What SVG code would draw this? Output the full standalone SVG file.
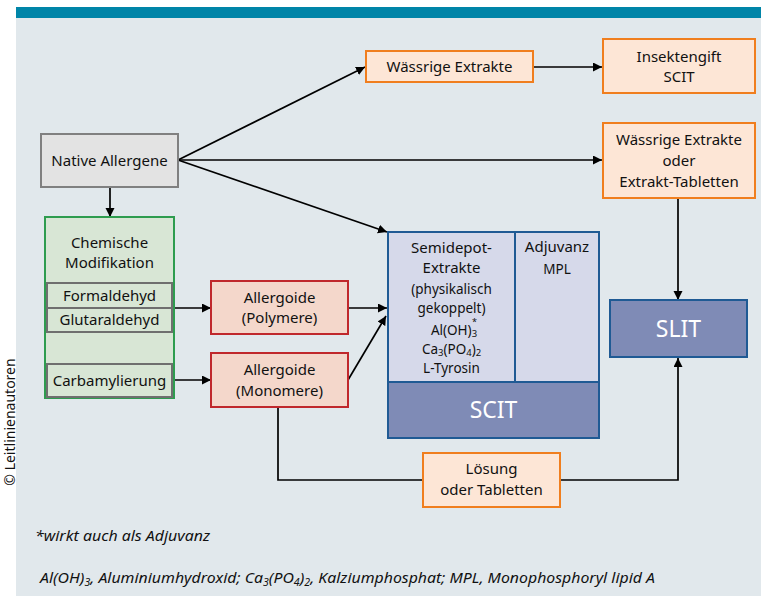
<svg xmlns="http://www.w3.org/2000/svg" width="761" height="596" viewBox="0 0 761 596">
<defs>
<marker id="ah" markerUnits="userSpaceOnUse" markerWidth="10" markerHeight="10" refX="9" refY="4.5" orient="auto">
<path d="M0,0 L9,4.5 L0,9 z" fill="#000"/>
</marker>
<style>
.t{font-family:"Noto Sans","Liberation Sans",sans-serif;font-size:15px;fill:#111;text-anchor:middle}
.s{font-size:13.5px}
.w{fill:#fff;font-size:23px}
.c{fill:none;stroke:#000;stroke-width:1.7}
.orange{fill:#fde6d6;stroke:#f07e1e;stroke-width:2}
.red{fill:#f4d7cb;stroke:#c0282c;stroke-width:2}
.gray{fill:#e3e3e3;stroke:#808080;stroke-width:2}
.sub{fill:#d8e6d5;stroke:#6f6f6f;stroke-width:2}
.blue{fill:#d6d9ea;stroke:#1f5a94;stroke-width:2}
.dark{fill:#7f8bb6;stroke:#1f5a94;stroke-width:2}
.fn{font-family:"Noto Sans","Liberation Sans",sans-serif;font-style:italic;font-size:15px;fill:#111}
.sb{font-size:9.5px}
</style>
</defs>
<rect x="0" y="0" width="761" height="596" fill="#fff"/>
<rect x="16" y="18" width="745" height="578" fill="#e1e8ec"/>
<rect x="16" y="7" width="745" height="11" fill="#0085a8"/>
<text class="t" transform="translate(15,422) rotate(-90)" style="font-size:14px">© Leitlinienautoren</text>

<g id="connectors">
<line class="c" x1="178" y1="160" x2="365" y2="67" marker-end="url(#ah)"/>
<line class="c" x1="178" y1="160" x2="602" y2="160" marker-end="url(#ah)"/>
<line class="c" x1="178" y1="160" x2="387" y2="232" marker-end="url(#ah)"/>
<line class="c" x1="533" y1="67" x2="602" y2="67" marker-end="url(#ah)"/>
<line class="c" x1="110" y1="187" x2="110" y2="217" marker-end="url(#ah)"/>
<line class="c" x1="172" y1="308" x2="211" y2="308" marker-end="url(#ah)"/>
<line class="c" x1="172" y1="380" x2="211" y2="380" marker-end="url(#ah)"/>
<line class="c" x1="348" y1="308" x2="387" y2="308" marker-end="url(#ah)"/>
<line class="c" x1="348" y1="380" x2="386" y2="316" marker-end="url(#ah)"/>
<line class="c" x1="678" y1="198" x2="678" y2="300" marker-end="url(#ah)"/>
<polyline class="c" points="278,407 278,480 678,480 678,358" marker-end="url(#ah)"/>
</g>

<g id="native">
<rect class="gray" x="41" y="134" width="137" height="53"/>
<text class="t" x="109.5" y="166">Native Allergene</text>
</g>

<g id="chem">
<rect x="45" y="217" width="129" height="181" fill="#d8e6d5" stroke="#2e9c4f" stroke-width="2"/>
<text class="t" x="109.5" y="248">Chemische</text>
<text class="t" x="109.5" y="268">Modifikation</text>
</g>
<g id="formaldehyd">
<rect class="sub" x="47" y="283" width="125" height="25"/>
<text class="t" x="109.5" y="301">Formaldehyd</text>
</g>
<g id="glutaraldehyd">
<rect class="sub" x="47" y="308" width="125" height="24"/>
<text class="t" x="109.5" y="325">Glutaraldehyd</text>
</g>
<g id="carbamylierung">
<rect class="sub" x="47" y="364" width="125" height="33"/>
<text class="t" x="109.5" y="386">Carbamylierung</text>
</g>

<g id="polymere">
<rect class="red" x="211" y="281" width="137" height="53"/>
<text class="t" x="279.5" y="303">Allergoide</text>
<text class="t" x="279.5" y="323">(Polymere)</text>
</g>
<g id="monomere">
<rect class="red" x="211" y="353" width="137" height="54"/>
<text class="t" x="279.5" y="375">Allergoide</text>
<text class="t" x="279.5" y="396">(Monomere)</text>
</g>

<g id="waessrig">
<rect class="orange" x="366" y="51" width="167" height="31"/>
<text class="t" x="449.5" y="72">Wässrige Extrakte</text>
</g>
<g id="insektengift">
<rect class="orange" x="603" y="39" width="152" height="54"/>
<text class="t" x="679" y="62">Insektengift</text>
<text class="t" x="679" y="82">SCIT</text>
</g>
<g id="waessrig-tabletten">
<rect class="orange" x="603" y="123" width="152" height="75"/>
<text class="t" x="679" y="145">Wässrige Extrakte</text>
<text class="t" x="679" y="166">oder</text>
<text class="t" x="679" y="187">Extrakt-Tabletten</text>
</g>

<g id="scit">
<rect class="blue" x="388" y="232" width="211" height="150"/>
<line x1="515" y1="232" x2="515" y2="382" stroke="#1f5a94" stroke-width="2"/>
<rect class="dark" x="388" y="382" width="211" height="56"/>
<text class="t" x="451.5" y="253">Semidepot-</text>
<text class="t" x="451.5" y="273">Extrakte</text>
<text class="t s" x="451.5" y="294">(physikalisch</text>
<text class="t s" x="451.5" y="313">gekoppelt)</text>
<text class="t s" x="454" y="335">Al(OH)<tspan dy="2" class="sb">3</tspan><tspan dx="-5" dy="-12" style="font-size:9px">*</tspan></text>
<text class="t s" x="451.5" y="354">Ca<tspan dy="2" class="sb">3</tspan><tspan dy="-2">(PO</tspan><tspan dy="2" class="sb">4</tspan><tspan dy="-2">)</tspan><tspan dy="2" class="sb">2</tspan></text>
<text class="t s" x="451.5" y="373">L-Tyrosin</text>
<text class="t" x="557" y="252">Adjuvanz</text>
<text class="t s" x="557" y="274">MPL</text>
<text class="t w" x="493.5" y="418">SCIT</text>
</g>

<g id="slit">
<rect class="dark" x="610" y="300" width="137" height="57"/>
<text class="t w" x="678.5" y="337">SLIT</text>
</g>

<g id="loesung">
<rect class="orange" x="423" y="453" width="137" height="54"/>
<text class="t" x="491.5" y="474">Lösung</text>
<text class="t" x="491.5" y="495">oder Tabletten</text>
</g>

<text class="fn" x="35" y="541" textLength="175" lengthAdjust="spacingAndGlyphs">*wirkt auch als Adjuvanz</text>
<text class="fn" x="40" y="583" textLength="615" lengthAdjust="spacingAndGlyphs">Al(OH)<tspan dy="3" style="font-size:10px">3</tspan><tspan dy="-3">, Aluminiumhydroxid; Ca</tspan><tspan dy="3" style="font-size:10px">3</tspan><tspan dy="-3">(PO</tspan><tspan dy="3" style="font-size:10px">4</tspan><tspan dy="-3">)</tspan><tspan dy="3" style="font-size:10px">2</tspan><tspan dy="-3">, Kalziumphosphat; MPL, Monophosphoryl lipid A</tspan></text>
</svg>
